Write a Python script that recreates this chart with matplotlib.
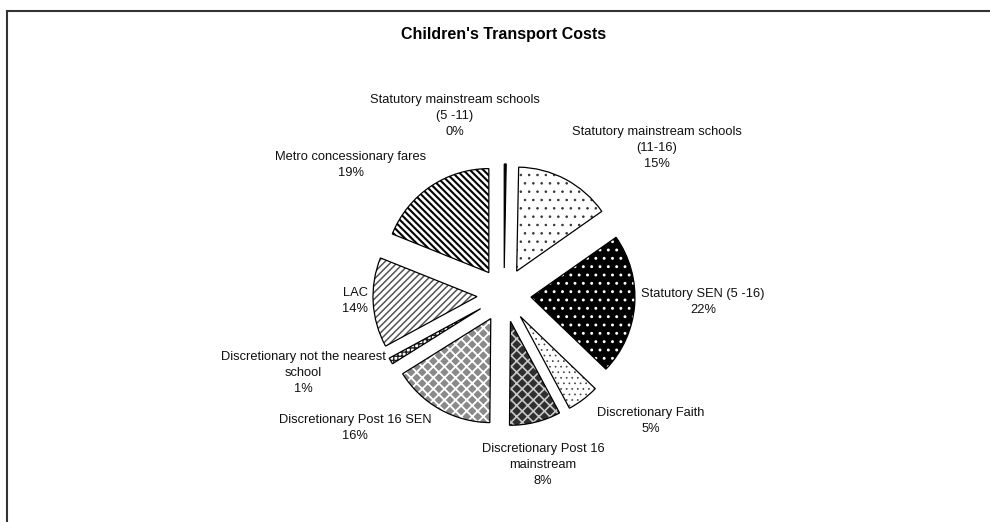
import matplotlib
matplotlib.use("Agg")
import matplotlib.pyplot as plt
from matplotlib.patches import Rectangle

plt.rcParams['font.family'] = ['Liberation Sans', 'DejaVu Sans']

# ---- data ----
categories = [
    "Statutory mainstream schools\n(5 -11)",
    "Statutory mainstream schools\n(11-16)",
    "Statutory SEN (5 -16)",
    "Discretionary Faith",
    "Discretionary Post 16\nmainstream",
    "Discretionary Post 16 SEN",
    "Discretionary not the nearest\nschool",
    "LAC",
    "Metro concessionary fares",
]
values = [0.3, 15, 22, 5, 8, 16, 1, 14, 19]
title = "Children's Transport Costs"

# ---- styling ----
faces = ['black', 'white', 'black', 'white', '#2e2e2e', '#8a8a8a', 'white', 'white', 'white']
hatch_cols = ['black', '#333333', 'white', '#444444', '#c8c8c8', 'white', '#222222', '#555555', 'black']
hatches = [None, '..', '..', '...', 'xxx', 'xxx', '++++', '/////', '\\\\\\\\\\']
hatch_lw = [1, 0.6, 0.9, 0.5, 1.2, 1.3, 1.0, 1.1, 1.5]
# label centre positions (pixels) for each category
label_px = [(455, 116), (657, 148), (703, 302), (651, 421), (543, 465),
            (355, 428), (303, 373), (355, 301), (351, 165)]

W, H = 990, 522
fig = plt.figure(figsize=(W / 100, H / 100), dpi=100)
cx, cy, R = 504, 295, 104
ax = fig.add_axes([0, 0, 1, 1])
ax.axis('off')

explode = [0.26] * len(values)
plt.rcParams['hatch.linewidth'] = 1.2
wedges, _ = ax.pie(values, startangle=90, counterclock=False, explode=explode,
                   radius=1, colors=faces, normalize=True,
                   wedgeprops=dict(linewidth=0))
for w, h, hc, lw in zip(wedges, hatches, hatch_cols, hatch_lw):
    if h:
        w.set_hatch(h)
        w.set_edgecolor(hc)
        if hasattr(w, 'set_hatch_linewidth'):
            w.set_hatch_linewidth(lw)
outl, _ = ax.pie(values, startangle=90, counterclock=False, explode=explode,
                 radius=1, colors=['none'] * len(values), normalize=True,
                 wedgeprops=dict(linewidth=0.9, edgecolor='black', facecolor='none'))
ax.set_xlim(-cx / R, (W - cx) / R)
ax.set_ylim(-(H - cy) / R, cy / R)

total = sum(values)
for cat, v, (px, py) in zip(categories, values, label_px):
    pct = round(v / total * 100)
    fig.text(px / W, 1 - py / H, f"{cat}\n{pct}%", ha='center', va='center',
             fontsize=9.3, linespacing=1.45, color='#111111')

fig.text(504 / W, 1 - 35 / H, title, ha='center', va='center',
         fontsize=11.5, fontweight='bold')

fig.add_artist(Rectangle((7 / W, -0.2), 2, 1.2 - 11 / H, transform=fig.transFigure,
                         fill=False, edgecolor='#333333', linewidth=1.5))

fig.savefig('out.png', dpi=100)
